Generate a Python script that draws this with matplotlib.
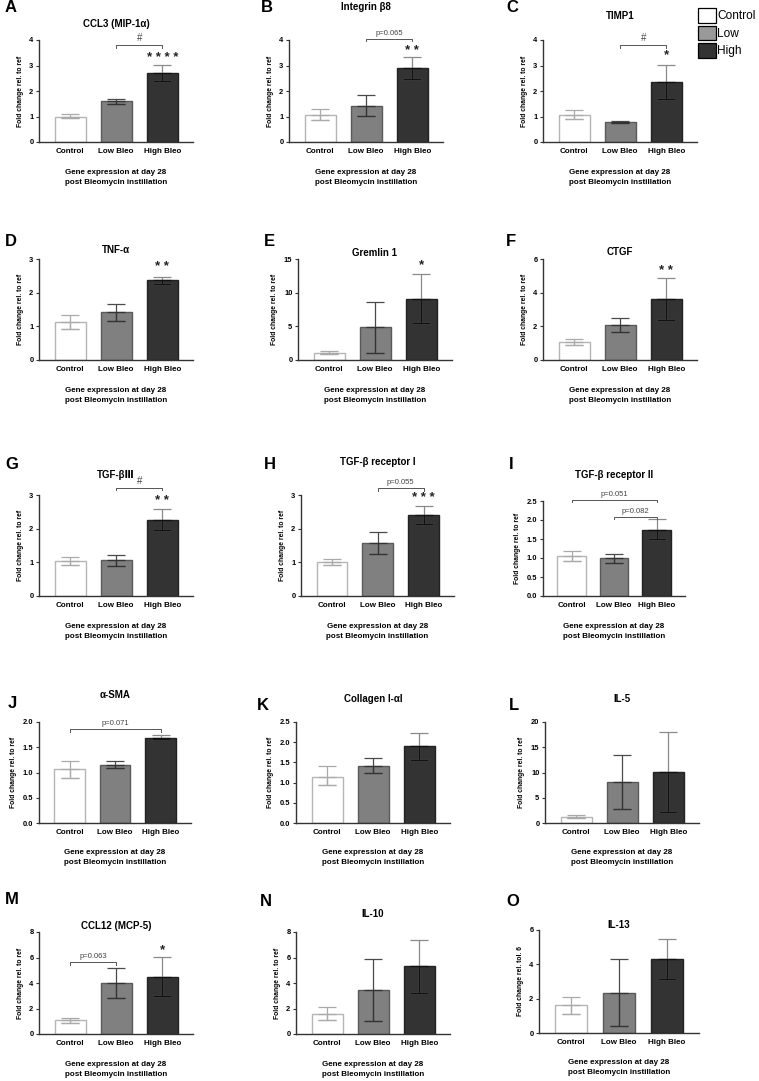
import matplotlib
matplotlib.use("Agg")
import matplotlib.pyplot as plt
from matplotlib.patches import Patch
import numpy as np

plt.rcParams['font.family'] = ['Liberation Sans', 'DejaVu Sans']

W, H = 759, 1081

groups = ["Control", "Low Bleo", "High Bleo"]
legend_labels = ["Control", "Low", "High"]

letters = ["A", "B", "C", "D", "E", "F", "G", "H", "I", "J", "K", "L", "M", "N", "O"]
titles = ["CCL3 (MIP-1\u03b1)", "Integrin \u03b28", "TIMP1",
          "TNF-\u03b1", "Gremlin 1", "CTGF",
          "TGF-\u03b2\u2162", "TGF-\u03b2 receptor I", "TGF-\u03b2 receptor II",
          "\u03b1-SMA", "Collagen I-\u03b1I", "IL-5",
          "CCL12 (MCP-5)", "IL-10", "IL-13"]
ylabels = ["Fold change rel. to ref"] * 14 + ["Fold change rel. tol. 6"]
ymax = [4, 4, 4, 3, 15, 6, 3, 3, 2.5, 2.0, 2.5, 20, 8, 8, 6]
ystep = [1, 1, 1, 1, 5, 2, 1, 1, 0.5, 0.5, 0.5, 5, 2, 2, 2]

means = [[1.0, 1.6, 2.7], [1.07, 1.43, 2.9], [1.07, 0.8, 2.37],
         [1.13, 1.42, 2.37], [1.09, 4.85, 9.05], [1.05, 2.08, 3.6],
         [1.04, 1.06, 2.25], [1.02, 1.58, 2.4], [1.04, 0.99, 1.75],
         [1.06, 1.15, 1.69], [1.15, 1.42, 1.9], [1.2, 8.1, 10.1],
         [1.07, 4.01, 4.48], [1.6, 3.45, 5.3], [1.62, 2.34, 4.29]]
err_lo = [[0.93, 1.5, 2.38], [0.87, 1.02, 2.48], [0.9, 0.76, 1.7],
          [0.93, 1.17, 2.27], [0.9, 1.1, 5.45], [0.9, 1.68, 2.36],
          [0.92, 0.9, 1.95], [0.93, 1.26, 2.13], [0.91, 0.88, 1.5],
          [0.9, 1.08, 1.66], [0.95, 1.25, 1.55], [0.9, 2.8, 2.2],
          [0.89, 2.79, 3.0], [1.1, 1.0, 3.2], [1.12, 0.43, 3.15]]
err_hi = [[1.08, 1.68, 3.02], [1.28, 1.83, 3.32], [1.25, 0.83, 3.03],
          [1.33, 1.67, 2.48], [1.3, 8.55, 12.8], [1.25, 2.48, 4.89],
          [1.17, 1.23, 2.58], [1.09, 1.91, 2.67], [1.19, 1.11, 2.02],
          [1.23, 1.22, 1.74], [1.4, 1.6, 2.22], [1.5, 13.5, 18.0],
          [1.22, 5.21, 6.02], [2.1, 5.9, 7.4], [2.09, 4.29, 5.45]]

# brackets: (panel, group a, group b, height, label)
brackets = [(0, 1, 2, 3.8, "#"), (1, 1, 2, 4.05, "p=0.065"), (2, 1, 2, 3.8, "#"),
            (6, 1, 2, 3.22, "#"), (7, 1, 2, 3.2, "p=0.055"),
            (8, 0, 2, 2.53, "p=0.051"), (8, 1, 2, 2.09, "p=0.082"),
            (9, 0, 2, 1.86, "p=0.071"), (12, 0, 1, 5.65, "p=0.063")]
# stars: (panel, group, height, label)
stars = [(0, 2, 3.3, "* * * *"), (1, 2, 3.55, "* *"), (2, 2, 3.42, "*"),
         (3, 2, 2.75, "* *"), (4, 2, 14.1, "*"), (5, 2, 5.3, "* *"),
         (6, 2, 2.82, "* *"), (7, 2, 2.9, "* * *"), (12, 2, 6.6, "*")]

# layout in pixels: axes left, top, bottom, width; title y; letter x, y
axes_px = [(39, 40, 142, 154), (289, 40, 142, 154), (543, 40, 142, 154),
           (39, 259, 360, 154), (298, 259, 360, 154), (543, 259, 360, 154),
           (39, 495, 596, 154), (301, 495, 596, 153), (543, 501, 596, 142),
           (39, 722, 823, 152), (296, 722, 823, 154), (545, 722, 823, 154),
           (39, 932, 1034, 154), (296, 932, 1034, 154), (539, 930, 1033, 160)]
title_y = [24, 7, 16, 250, 253, 252, 475, 462, 475, 695, 699, 699, 926, 914, 925]
letter_xy = [(11, 7), (267, 7), (512, 8), (11, 242), (269, 242), (511, 242),
             (12, 465), (270, 465), (511, 465), (12, 703), (263, 706), (514, 706),
             (12, 900), (266, 902), (513, 902)]

face = ["white", "#808080", "#333333"]
edge = ["#b5b5b5", "#5a5a5a", "#222222"]
bar_up = ["#aaaaaa", "#4a4a4a", "#8a8a8a"]
bar_low = ["#aaaaaa", "#333333", "#111111"]

fig = plt.figure(figsize=(W / 100, H / 100), dpi=100)

x = np.arange(3)
for k in range(15):
    l, t, b, w = axes_px[k]
    ax = fig.add_axes([l / W, 1 - b / H, w / W, (b - t) / H])
    m = np.array(means[k])
    lo = np.array(err_lo[k])
    hi = np.array(err_hi[k])
    ax.bar(x, m, width=0.67, color=face, edgecolor=edge, linewidth=1.0, zorder=2)
    for i in range(3):
        ax.errorbar(x[i], m[i], yerr=[[m[i] - lo[i]], [hi[i] - m[i]]], fmt='none',
                    ecolor=bar_up[i], elinewidth=0.9, capsize=6.5, capthick=0.9, zorder=3)
        ax.errorbar(x[i], m[i], yerr=[[m[i] - lo[i]], [0]], fmt='none',
                    ecolor=bar_low[i], elinewidth=0.9, capsize=6.5, capthick=0.9, zorder=4)
    ax.set_xlim(-0.675, 2.665)
    ax.set_ylim(0, ymax[k])
    yt = np.arange(0, ymax[k] + 1e-9, ystep[k])
    ax.set_yticks(yt)
    if ystep[k] < 1:
        ax.set_yticklabels([f"{v:.1f}" for v in yt])
    else:
        ax.set_yticklabels([f"{int(v)}" for v in yt])
    ax.set_xticks(x)
    ax.set_xticklabels(groups)
    for s in ["top", "right"]:
        ax.spines[s].set_visible(False)
    for s in ["left", "bottom"]:
        ax.spines[s].set_color("#333333")
        ax.spines[s].set_linewidth(1.0)
    ax.tick_params(axis='y', length=2.5, width=0.8, color="#333333", labelsize=5.4, pad=1.5)
    ax.tick_params(axis='x', length=0, labelsize=5.8, pad=4)
    for lab in ax.get_xticklabels() + ax.get_yticklabels():
        lab.set_fontweight("bold")
    ax.set_ylabel(ylabels[k], fontsize=4.9, fontweight="bold", labelpad=4)

    cx = (l + w / 2) / W
    fig.text(cx, 1 - title_y[k] / H, titles[k], ha="center", va="center",
             fontsize=7, fontweight="bold")
    fig.text(cx, 1 - (b + 30) / H, "Gene expression at day 28", ha="center", va="center",
             fontsize=5.8, fontweight="bold")
    fig.text(cx, 1 - (b + 40) / H, "post Bleomycin instillation", ha="center", va="center",
             fontsize=5.8, fontweight="bold")
    lx, ly = letter_xy[k]
    fig.text(lx / W, 1 - ly / H, letters[k], ha="center", va="center",
             fontsize=12, fontweight="bold")

    tick = 0.025 * ymax[k]
    for (p, a, bb, hgt, txt) in brackets:
        if p != k:
            continue
        ax.plot([a, a, bb, bb], [hgt - tick, hgt, hgt, hgt - tick], color="#555555",
                lw=0.7, clip_on=False, zorder=5)
        ax.text((a + bb) / 2, hgt + 0.02 * ymax[k], txt, ha="center", va="bottom",
                fontsize=5.5 if txt.startswith("p") else 7, color="#444444", clip_on=False)
    for (p, g, hgt, txt) in stars:
        if p != k:
            continue
        ax.text(g, hgt, txt, ha="center", va="center", fontsize=9.5, fontweight="bold",
                color="#222222", clip_on=False)

handles = [Patch(facecolor=face[i] if i != 1 else "#999999", edgecolor="black", linewidth=0.9)
           for i in range(3)]
fig.legend(handles, legend_labels, loc="upper left", bbox_to_anchor=(698 / W, 1 - 8 / H),
           frameon=False, fontsize=8.6, handlelength=1.5, handleheight=1.5,
           handletextpad=0.1, labelspacing=0.25, borderpad=0, borderaxespad=0)

fig.savefig("out.png", dpi=100)
